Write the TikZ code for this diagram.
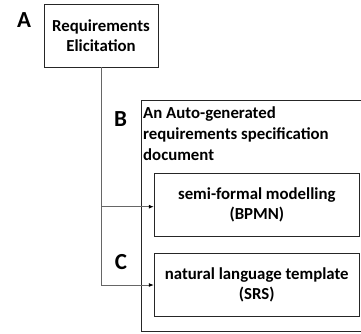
\documentclass[tikz,border=0pt]{standalone}
\usepackage{fontspec}
\setmainfont{Carlito}
\usetikzlibrary{arrows.meta}
\begin{document}
\begin{tikzpicture}[x=1pt,y=-1pt,
  box/.style={draw=black!85,line width=0.9pt,inner sep=0pt},
  lbl/.style={font=\fontsize{23}{27}\selectfont\bfseries,inner sep=0pt},
  boxtxt/.style={font=\fontsize{16.8}{20}\selectfont\bfseries,align=center},
  conn/.style={draw=black!60,line width=0.9pt},
  arr/.style={conn,-{Latex[length=5pt,width=4pt,fill=black,color=black]}}]
\useasboundingbox (0,0) rectangle (361,333);
% boxes
\node[box,boxtxt,minimum width=114pt,minimum height=63pt] (req) at (101,35.5) {Requirements\\Elicitation};
\node[box,minimum width=230pt,minimum height=230.7pt,anchor=north west] (doc) at (140.7,100) {};
\node[font=\fontsize{16.8}{20.7}\selectfont\bfseries,align=left,inner sep=0pt,anchor=north west] (doctxt) at (143,107) {An Auto-generated\\requirements specification\\document};
\node[box,boxtxt,minimum width=205pt,minimum height=63.4pt] (bpmn) at (256.8,205) {semi-formal modelling\\(BPMN)};
\node[box,boxtxt,minimum width=205pt,minimum height=63.4pt] (srs) at (256.8,285) {natural language template\\(SRS)};
% labels
\node[lbl] (la) at (24,20) {A};
\node[lbl] (lb) at (120.5,119) {B};
\node[lbl] (lc) at (121,262) {C};
% connectors
\coordinate (j1) at (req.south |- 0,206.7);
\coordinate (j2) at (req.south |- 0,285);
\draw[conn] (req.south) -- (j2);
\draw[arr] (j1) -- (j1 -| bpmn.west);
\draw[arr] (j2) -- (j2 -| srs.west);
\end{tikzpicture}
\end{document}
